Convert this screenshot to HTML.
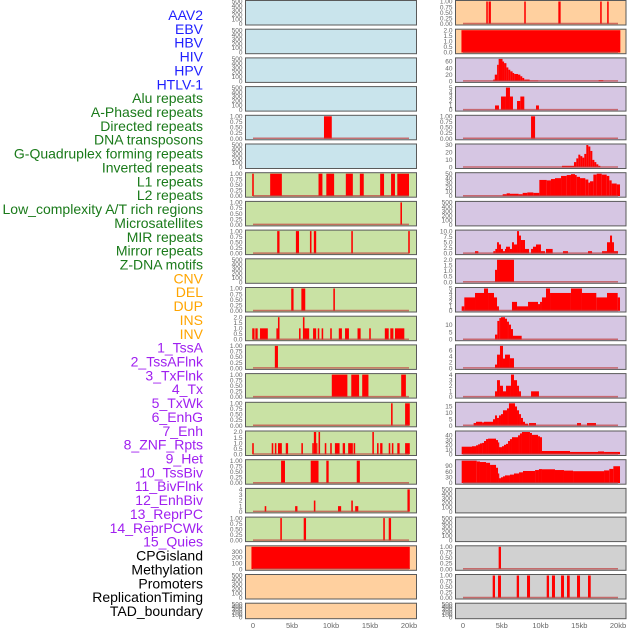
<!DOCTYPE html>
<html><head><meta charset="utf-8">
<style>
html,body{margin:0;padding:0;background:#fff;}
svg{display:block;font-family:"Liberation Sans",sans-serif;}
</style></head>
<body>
<svg id="chart" width="630" height="630" viewBox="0 0 630 630" xmlns="http://www.w3.org/2000/svg"></svg>
<script>
const labels = ["AAV2","EBV","HBV","HIV","HPV","HTLV-1","Alu repeats","A-Phased repeats","Directed repeats","DNA transposons","G-Quadruplex forming repeats","Inverted repeats","L1 repeats","L2 repeats","Low_complexity A/T rich regions","Microsatellites","MIR repeats","Mirror repeats","Z-DNA motifs","CNV","DEL","DUP","INS","INV","1_TssA","2_TssAFlnk","3_TxFlnk","4_Tx","5_TxWk","6_EnhG","7_Enh","8_ZNF_Rpts","9_Het","10_TssBiv","11_BivFlnk","12_EnhBiv","13_ReprPC","14_ReprPCWk","15_Quies","CPGisland","Methylation","Promoters","ReplicationTiming","TAD_boundary"];
const labelColors = ["#1f1fff","#1f1fff","#1f1fff","#1f1fff","#1f1fff","#1f1fff",
 "#1a7a1a","#1a7a1a","#1a7a1a","#1a7a1a","#1a7a1a","#1a7a1a","#1a7a1a","#1a7a1a","#1a7a1a","#1a7a1a","#1a7a1a","#1a7a1a","#1a7a1a",
 "#ffa500","#ffa500","#ffa500","#ffa500","#ffa500",
 "#a020f0","#a020f0","#a020f0","#a020f0","#a020f0","#a020f0","#a020f0","#a020f0","#a020f0","#a020f0","#a020f0","#a020f0","#a020f0","#a020f0","#a020f0",
 "#000","#000","#000","#000","#000"];
const xTicks = [0,5,10,15,20];
const xTickLabels = ["0","5kb","10kb","15kb","20kb"];

// Left column bars [startKb, endKb, value]
const leftBars = [
 [],[],[],[],
 [[9.1,10.1,1]],
 [],
 [[-0.1,0.1,1],[2.2,3.7,1],[8.4,8.9,1],[9.4,10.4,1],[11.9,12.8,1],[13.7,14.2,1],[16.3,16.8,1],[17.7,18.2,1],[18.5,20,1]],
 [[18.9,19.1,1]],
 [[3.1,3.4,1],[5.5,5.9,1],[7.3,7.5,1],[7.8,8.1,1],[12.6,12.8,1],[19.9,20.1,1]],
 [],
 [[4.9,5.2,1],[6.2,6.7,1],[10.3,10.5,1]],
 [[-0.1,0.2,1],[0.3,0.6,1],[0.9,1.9,1],[3.0,3.2,1],[3.2,3.4,2],[5.9,6.1,1],[6.4,6.6,2],[6.6,7.2,1],[7.7,8.1,1],[8.3,8.5,1],[8.8,9.0,1],[9.9,10.1,1],[11.0,11.4,1],[11.8,12.3,1],[13.4,13.8,1],[14.9,15.1,1],[16.9,17.4,1],[17.6,18.0,1],[18.2,19.4,1]],
 [[2.8,3.2,1]],
 [[10.1,12.1,1],[12.6,13.6,1],[14.0,14.8,1],[19.0,19.6,1]],
 [[17.7,17.9,1],[19.5,20.1,1]],
 [[-0.1,0.1,1],[2.4,2.6,1],[2.8,3.0,1],[3.2,3.7,1],[4.2,4.5,1],[6.2,6.4,1],[7.6,7.8,1],[7.8,8.1,2],[8.1,8.2,1],[8.4,8.6,2],[9.2,9.4,1],[9.9,10.1,1],[10.5,11.1,1],[11.5,11.8,1],[12.2,12.8,1],[12.9,13.1,1],[15.3,15.5,2],[15.9,16.1,1],[16.3,16.6,1],[17.4,17.6,1],[17.8,18.0,1],[18.5,18.8,1],[19.5,20.1,1]],
 [[3.6,4.1,1],[7.4,8.4,1],[9.4,9.7,1],[13.3,13.7,1]],
 [[1.5,1.7,1],[5.4,5.7,1],[7.8,8.0,2],[10.9,11.3,1],[12.6,12.8,2],[13.1,13.5,1],[19.8,20.1,4]],
 [[3.5,3.7,1],[6.5,6.8,1],[16.7,16.9,1],[17.4,17.7,1]],
 [[-0.2,20.1,385]],
 [],[]
];
// Right column bars
const rightBars = [
 [[3.0,3.2,1],[3.3,3.6,1],[7.9,8.1,1],[12.3,12.6,1],[17.7,17.9,1],[18.6,18.8,1]],
 [[-0.2,20.3,2]],
 [[3.9,4.1,5],[4.1,4.4,20],[4.4,4.6,50],[4.6,5.1,68],[5.1,5.3,60],[5.3,5.6,55],[5.6,5.85,42],[5.85,6.1,35],[6.1,6.4,30],[6.4,6.6,25],[6.6,7.1,22],[7.1,7.4,20],[7.4,7.65,15],[7.65,7.9,10],[7.9,8.6,5],[8.6,9.7,2],[17.5,18.1,3]],
 [[4.13,4.64,1],[4.9,5.54,3],[5.54,6.06,5],[6.06,6.45,3],[6.97,7.4,2],[7.4,7.91,3],[9.42,9.8,1]],
 [[8.78,9.3,1]],
 [[12.77,14.32,2],[14.32,14.62,7],[14.62,14.88,12],[14.88,15.14,17],[15.14,15.4,15],[15.4,15.65,13],[15.65,15.91,18],[15.91,16.17,30],[16.17,16.43,28],[16.43,16.69,22],[16.69,16.95,10],[16.95,17.2,7],[17.2,17.46,4],[17.46,17.72,2]],
 [[5.12,5.63,4],[5.63,6.06,6],[6.06,7.18,5],[7.18,7.7,4],[7.7,8.3,7],[8.3,9.07,8],[9.07,9.85,7],[9.85,10.8,36],[10.8,11.35,35],[11.35,11.87,38],[11.87,12.65,40],[12.65,13.38,45],[13.38,13.93,47],[13.93,14.45,49],[14.45,14.67,47],[14.67,15.1,43],[15.1,15.78,40],[15.78,16.17,37],[16.17,16.39,30],[16.39,16.82,33],[16.82,17.25,48],[17.25,17.9,50],[17.9,18.54,48],[18.54,18.88,45],[18.88,19.18,35],[19.18,19.83,28],[19.83,20.26,26]],
 [],
 [[1.55,1.98,1],[3.91,4.17,1],[4.17,4.39,2],[4.39,4.64,5],[4.64,4.9,4],[4.9,5.16,2],[5.16,5.42,1],[5.42,5.55,2],[5.55,6.06,3],[6.06,6.32,2],[6.32,6.58,5],[6.58,6.97,4],[6.97,7.23,10],[7.23,7.48,8],[7.48,7.74,6],[7.74,8.0,6],[8.0,8.52,2],[8.78,9.03,2],[9.03,9.42,3],[9.42,9.68,4],[9.68,10.06,4],[10.06,10.58,1],[10.71,11.57,2],[12.9,13.55,1],[16.13,16.65,1],[17.94,18.58,1],[18.58,18.97,5],[18.97,19.23,8],[19.23,19.48,5],[19.48,20.0,1]],
 [[4.13,4.39,1.1],[4.39,6.58,2]],
 [[-0.17,0.17,1],[0.17,1.55,3],[1.55,2.71,4],[2.71,3.23,5],[3.23,4.0,4],[4.0,4.39,3],[4.39,4.64,1],[6.32,6.97,2],[6.97,8.39,1],[8.39,9.68,2],[9.68,9.94,1.5],[9.94,10.19,2],[10.19,10.71,3],[10.71,11.23,5],[11.23,13.93,4],[13.93,15.35,5],[15.35,17.2,4],[17.2,18.58,3],[18.58,19.96,4],[19.96,20.26,3]],
 [[4.13,4.43,3.3],[4.43,4.69,12.5],[4.69,4.9,14.4],[4.9,5.42,15],[5.42,5.68,14],[5.68,5.93,12],[5.93,6.19,10],[6.19,6.45,7],[6.45,7.57,2.5]],
 [[4.13,4.39,1.2],[4.39,4.77,4.5],[4.77,5.16,7.4],[5.16,5.42,3.2],[5.42,6.06,4.5],[6.06,6.58,3.3]],
 [[4.13,4.39,1],[4.39,4.77,3],[4.77,5.16,2],[5.16,5.55,1],[5.55,6.19,2],[6.19,6.58,4],[6.58,6.97,3],[6.97,7.23,2],[7.23,7.48,1],[8.78,9.8,1]],
 [[1.37,1.68,2],[1.68,2.46,3],[2.46,2.71,2.5],[2.71,3.87,3],[3.87,4.13,5],[4.13,4.39,8],[4.39,4.64,6],[4.64,4.9,8],[4.9,5.16,9],[5.16,5.68,12],[5.68,5.93,13.5],[5.93,6.71,17.5],[6.71,6.97,15],[6.97,7.23,12],[7.23,7.48,9],[7.48,7.74,6],[7.74,8.0,3],[8.0,8.39,1.5],[8.52,9.42,2],[14.71,15.23,2],[16.0,17.16,2]],
 [[-0.17,1.16,16],[1.16,1.68,17],[1.68,1.94,19],[1.94,2.19,21],[2.19,2.46,23],[2.46,2.71,24],[2.71,2.97,28],[2.97,3.23,32],[3.23,4.26,33],[4.26,4.52,30],[4.52,4.64,25],[4.64,5.03,15],[5.03,5.29,17],[5.29,5.55,20],[5.55,5.81,22],[5.81,6.06,28],[6.06,6.32,32],[6.32,7.1,36],[7.1,7.35,40],[7.35,7.61,44],[7.61,8.64,47],[8.64,8.9,45],[8.9,9.68,41],[9.68,9.94,38],[9.94,10.19,36],[10.19,13.81,7],[13.81,17.42,5],[17.42,18.2,6],[18.2,20.26,5]],
 [[-0.17,1.77,117],[1.77,2.19,113],[2.19,2.97,110],[2.97,3.49,106],[3.49,4.26,95],[4.26,4.52,80],[4.52,4.64,50],[4.64,4.9,25],[4.9,5.16,30],[5.16,5.42,35],[5.42,6.06,40],[6.06,6.58,44],[6.58,7.23,50],[7.23,7.74,56],[7.74,9.3,63],[9.3,9.8,68],[9.8,10.19,73],[10.19,11.87,72],[11.87,13.03,68],[13.03,14.2,65],[14.2,18.2,62],[18.2,18.88,66],[18.88,19.4,74],[19.4,20.26,88]],
 [],[],
 [[4.6,4.9,1]],
 [[3.83,4.13,1],[4.52,4.9,1],[6.93,7.23,1],[8.26,8.65,1],[10.8,11.1,1],[11.48,11.87,1],[12.65,13.03,1],[13.42,13.77,1],[14.71,15.1,1],[16.13,16.48,1]],
 []
];
const T01 = ["0.00","0.25","0.50","0.75","1.00"];
const T500 = ["0","100","200","300","400","500"];
const T2 = ["0.0","0.5","1.0","1.5","2.0"];
const leftTicks = [T500,T500,T500,T500,T01,T500,T01,T01,T01,T500,T01,T2,T01,T01,T01,T2,T01,["0","1","2","3","4"],T01,["0","100","200","300"],T500,T500];
const rightTicks = [T01,T2,["0","20","40","60"],["0","1","2","3","4","5"],T01,["0","10","20","30"],["0","10","20","30","40","50"],T500,["0.0","2.5","5.0","7.5","10.0"],T2,["0","1","2","3","4","5"],["0","5","10"],["0","2","4","6"],["0","1","2","3","4"],["0","5","10","15"],["0","10","20","30","40"],["0","30","60","90"],T500,T500,T01,T01,T500];
const leftBg = ["#c9e4ec","#c9e4ec","#c9e4ec","#c9e4ec","#c9e4ec","#c9e4ec","#c9e2a4","#c9e2a4","#c9e2a4","#c9e2a4","#c9e2a4","#c9e2a4","#c9e2a4","#c9e2a4","#c9e2a4","#c9e2a4","#c9e2a4","#c9e2a4","#c9e2a4","#ffd09f","#ffd09f","#ffd09f"];
const rightBg = ["#ffd09f","#ffd09f","#d6c6e3","#d6c6e3","#d6c6e3","#d6c6e3","#d6c6e3","#d6c6e3","#d6c6e3","#d6c6e3","#d6c6e3","#d6c6e3","#d6c6e3","#d6c6e3","#d6c6e3","#d6c6e3","#d6c6e3","#d1d1d1","#d1d1d1","#d1d1d1","#d1d1d1","#d1d1d1"];

const NS = "http://www.w3.org/2000/svg";
const svg = document.getElementById("chart");
function mk(tag, attrs, parent){ const e=document.createElementNS(NS,tag); for(const k in attrs) e.setAttribute(k,attrs[k]); (parent||svg).appendChild(e); return e; }

// labels
labels.forEach((t,i)=>{
  const el = mk("text",{x:203,y:(15+i*13.86+5).toFixed(1),"text-anchor":"end","font-size":"14",fill:labelColors[i]});
  el.textContent = t;
  
  
});

const cols = [
  {x0:245.5,x1:416.5,zero:253,scale:7.8,bars:leftBars,ticks:leftTicks,bg:leftBg,name:"left"},
  {x0:455.5,x1:626,zero:463,scale:7.75,bars:rightBars,ticks:rightTicks,bg:rightBg,name:"right"}
];
cols.forEach((c,ci)=>{
  const xs = kb => c.zero + kb*c.scale;
  for(let r=0;r<22;r++){
    const top = r*28.7 + 0.5;
    const h = r===21 ? 15.5 : 24.5;
    const g = mk("g",{});
    
    
    const rect = mk("rect",{x:c.x0,y:top,width:c.x1-c.x0,height:h,fill:c.bg[r],stroke:"#5a5a5a","stroke-width":"1"},g);
    
    
    const bars = c.bars[r];
    const tk = c.ticks[r];
    const zeroY = top + h - 1.2, maxY = top + 1;
    let dmax;
    if(bars.length){ dmax = Math.max(...bars.map(b=>b[2])); }
    else { dmax = parseFloat(tk[tk.length-1]); }
    const ys = v => zeroY - v/dmax*(zeroY-maxY);
    // tick labels
    const tmax = parseFloat(tk[tk.length-1]);
    tk.forEach((lab,ti)=>{
      const v = parseFloat(lab);
      let y;
      if(bars.length) y = ys(v);
      else y = zeroY - (v/tmax)*(zeroY-maxY);
      const t = mk("text",{x:c.x0-3,y:(y+2.2).toFixed(1),"text-anchor":"end","font-size":"6.5",fill:"#666"},g);
      t.textContent = lab;
      
      
    });
    if(bars.length){
      bars.forEach(b=>{
        const x1 = xs(b[0]), x2 = xs(b[1]);
        const br = mk("rect",{x:x1.toFixed(2),y:ys(b[2]).toFixed(2),width:Math.max(1.2,x2-x1).toFixed(2),height:(zeroY-ys(b[2])).toFixed(2),fill:"#ff0000"},g);
        
        
      });
      const rug = mk("line",{x1:xs(0),x2:xs(20),y1:zeroY-0.3,y2:zeroY-0.3,stroke:"#c04040","stroke-opacity":"0.7","stroke-width":"1.5"},g);
      
      
    }
  }
  xTicks.forEach((v,i)=>{
    const t = mk("text",{x:xs(v).toFixed(1),y:628,"text-anchor":"middle","font-size":"7.5",fill:"#666"});
    t.textContent = xTickLabels[i];
    
    
  });
});
</script>
</body></html>
